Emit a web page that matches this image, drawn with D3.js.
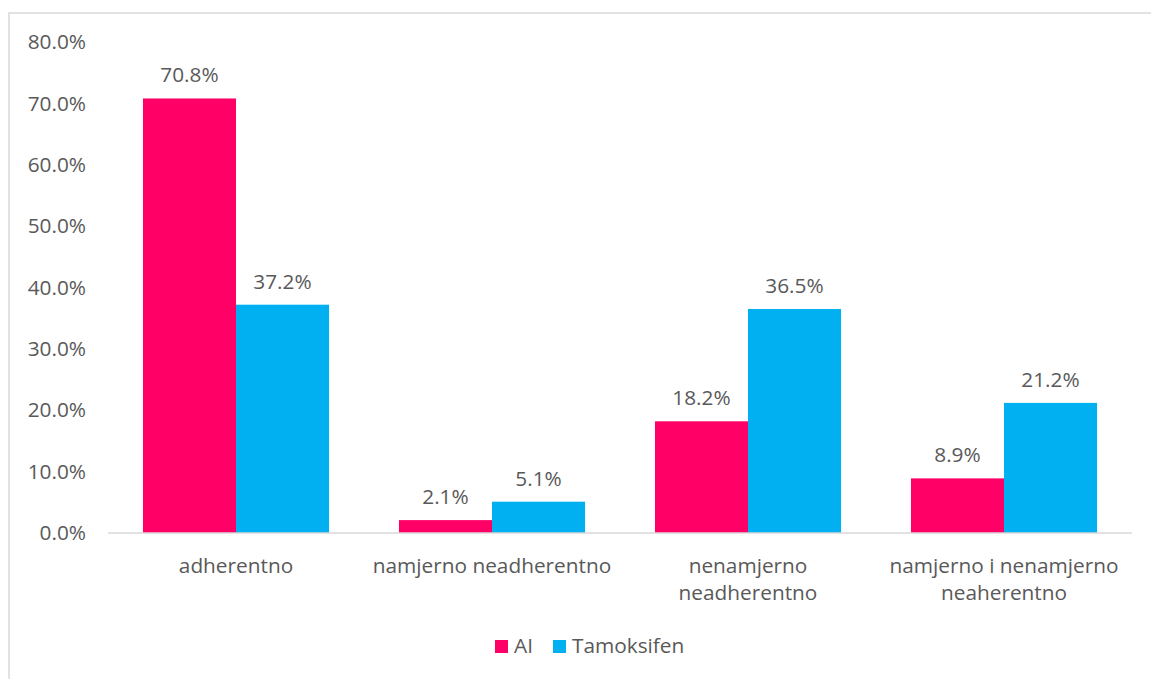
<!DOCTYPE html>
<html>
<head>
<meta charset="utf-8">
<script src="https://cdn.jsdelivr.net/npm/d3@7"></script>
<style>
  body { margin: 0; background: #fff; }
  svg text { font-family: "Open Sans", sans-serif; fill: #595959; }
</style>
</head>
<body>
<svg id="chart" width="1151" height="679"></svg>
<script>
var categories = ['adherentno', 'namjerno neadherentno', 'nenamjerno\nneadherentno', 'namjerno i nenamjerno\nneaherentno'];
var seriesNames = ['AI', 'Tamoksifen'];
var aiValues = [70.8, 2.1, 18.2, 8.9];
var tamValues = [37.2, 5.1, 36.5, 21.2];
var yTicks = [0, 10, 20, 30, 40, 50, 60, 70, 80];
var colors = ['#FF0066', '#00B0F0'];

var svg = d3.select('#chart');
var plotLeft = 108, plotRight = 1132, plotTop = 42, plotBottom = 533;
var fs = '20.8px';

// chart area border (cut off at right/bottom like the source)
svg.append('rect')
  .attr('x', 9).attr('y', 13)
  .attr('width', 1160).attr('height', 700)
  .attr('fill', 'none')
  .attr('stroke', '#d9d9d9')
  .attr('stroke-width', 1.5);

var x0 = d3.scaleBand().domain(categories).range([plotLeft, plotRight]).paddingInner(0).paddingOuter(0);
var x1 = d3.scaleBand().domain(seriesNames).range([0, x0.bandwidth()]).paddingInner(0).paddingOuter(0.376);
var y = d3.scaleLinear().domain([0, 80]).range([plotBottom, plotTop]);

// y axis labels
var yAxis = d3.axisLeft(y).tickValues(yTicks).tickSize(0).tickPadding(0)
  .tickFormat(d => d.toFixed(1) + '%');
var ya = svg.append('g').attr('transform', 'translate(86,0)').call(yAxis);
ya.select('.domain').remove();
ya.selectAll('text').style('font-size', fs).style('font-family', '"Open Sans", sans-serif').attr('fill', '#595959');

// bars
var rows = categories.map((c, i) => ({cat: c, vals: [aiValues[i], tamValues[i]]}));
var g = svg.selectAll('g.grp').data(rows).enter().append('g')
  .attr('class', 'grp')
  .attr('transform', d => 'translate(' + x0(d.cat) + ',0)');

g.selectAll('rect').data(d => d.vals.map((v, j) => ({name: seriesNames[j], v: v, j: j})))
  .enter().append('rect')
  .attr('x', d => x1(d.name))
  .attr('y', d => y(d.v))
  .attr('width', x1.bandwidth())
  .attr('height', d => plotBottom - y(d.v))
  .attr('fill', d => colors[d.j]);

g.selectAll('text.lbl').data(d => d.vals.map((v, j) => ({name: seriesNames[j], v: v})))
  .enter().append('text')
  .attr('class', 'lbl')
  .attr('x', d => x1(d.name) + x1.bandwidth() / 2)
  .attr('y', d => y(d.v) - 16)
  .attr('text-anchor', 'middle')
  .style('font-size', fs)
  .text(d => d.v.toFixed(1) + '%');

// baseline
svg.append('line')
  .attr('x1', plotLeft).attr('x2', plotRight)
  .attr('y1', plotBottom).attr('y2', plotBottom)
  .attr('stroke', '#d9d9d9').attr('stroke-width', 1.5);

// category labels
var xa = svg.selectAll('text.cat').data(categories).enter().append('text')
  .attr('class', 'cat')
  .attr('x', d => x0(d) + x0.bandwidth() / 2)
  .attr('y', 573)
  .attr('text-anchor', 'middle')
  .style('font-size', fs);
xa.selectAll('tspan').data(d => d.split('\n')).enter().append('tspan')
  .attr('x', function () { return d3.select(this.parentNode).attr('x'); })
  .attr('dy', (d, i) => i === 0 ? 0 : 27)
  .text(d => d);

// legend
var legX = [495, 553];
var leg = svg.selectAll('g.leg').data(seriesNames).enter().append('g')
  .attr('class', 'leg')
  .attr('transform', (d, i) => 'translate(' + legX[i] + ',640)');
leg.append('rect').attr('width', 13).attr('height', 13).attr('fill', (d, i) => colors[i]);
leg.append('text').attr('x', 19).attr('y', 13).style('font-size', fs).text(d => d);
</script>
</body>
</html>
